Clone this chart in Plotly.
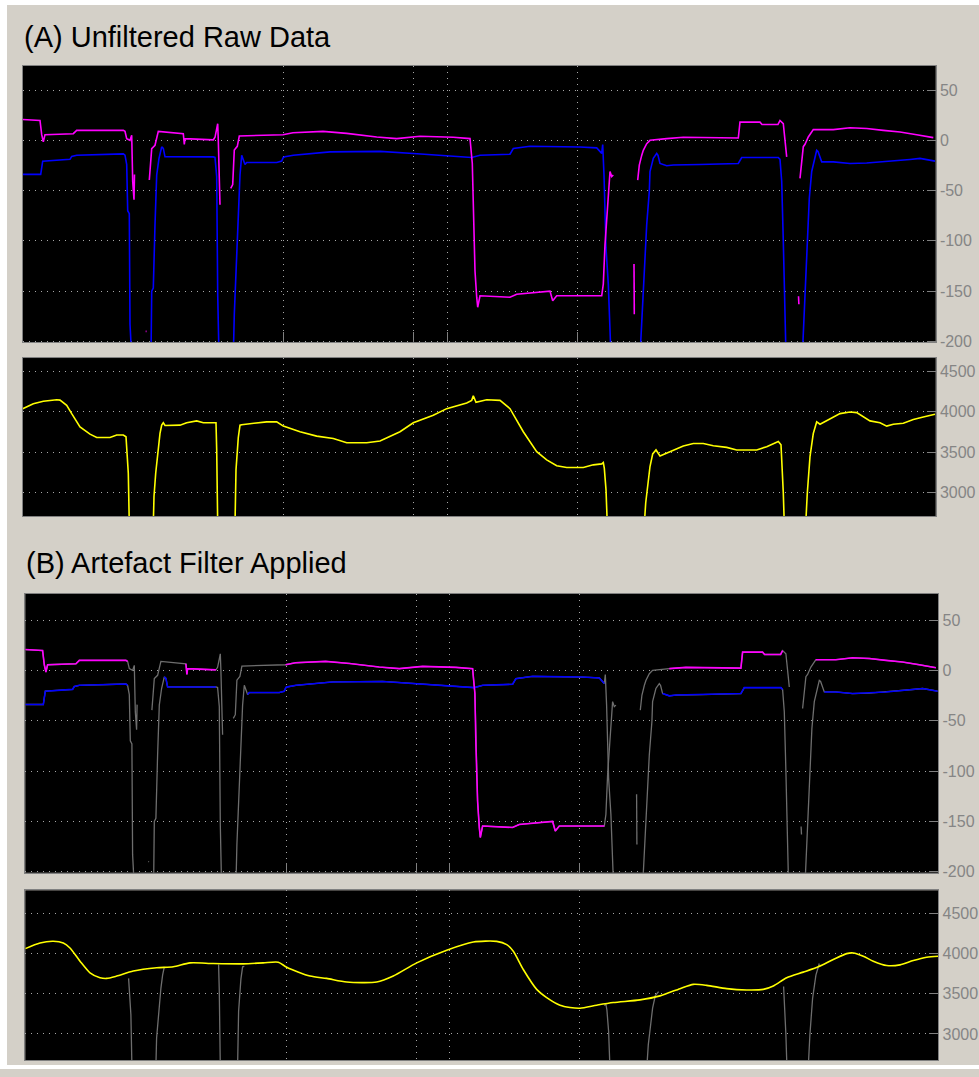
import plotly.graph_objects as go

# ---------------- data (time in samples) ----------------
N = None
raw_mag_t = [0, 17.3, 19, 20.6, 22.3, 50.6, 54, 100.6, 102.3, 104, 107.3, 109, 110, 111.3, 111.8, N,
             123, 123.8, N,
             126.6, 129, 132.3, 135.6, 160.6, 161.3, 161.6, 162.3, 190.6, 192.3, 195, 195.6, 197.3, N,
             208, 210, 211.6, 214.6, 216.6, 260.3, 270.3, 300.3, 324, 354, 374, 397.3, 430.6, 447.3,
             449.6, 450.6, 452.3, 454, 455, 457.3, 487.3, 494, 517.3, 527.3, 530, 534, 579, 580.6,
             582.3, 584, 585.6, 587.3, 589, 590.6, N,
             611.3, 611.6, N,
             615, 616.6, 619, 620.6, 624, 627.3, 644, 660.6, 715.6, 717.3, 737.3, 739.3, 755.3, 757.3,
             760.6, 762.3, 764, N,
             775.8, 776.2, N,
             777.3, 779, 780.6, 782.3, 785.6, 790.6, 810.6, 827.3, 844, 860.6, 877.3, 894, 910.6]
raw_mag_v = [20.7, 19.7, 5.6, -1.6, 5.6, 6.6, 9.9, 9.9, 8.9, 1.7, 0, 5, -41, -59, -34, N,
             -190, -190, N,
             -39.5, -8.2, -4.9, 8.9, 6.6, 1.7, -4, 1.7, 0.5, 3, 16.5, 0, -64, N,
             -47.7, -44, -9.7, -6, 4.3, 5.6, 7.6, 8.9, 6.9, 3.3, 1.7, 4, 3, 1.7,
             -23, -74, -130, -156, -166, -154.6, -156, -153, -151, -150, -159.5, -154.6, -154.6, -143,
             -103.7, -76, -54, -31, -36, -34.5, N,
             -123, -173, N,
             -39.5, -24.7, -15, -10, -3.3, 0, 1.7, 3, 2.3, 18.1, 18.1, 15.8, 15.8, 19.7,
             16.5, -1.6, -16.5, N,
             -155, -163, N,
             -37.8, -18, -6.3, -4, 3.3, 10.6, 10.6, 12.5, 11.8, 9.9, 8.3, 5.6, 2.7]

raw_blue_t = [0, 18, 20, 47.3, 49, 54, 100.6, 102.3, 104, 105, 106.6, 107.3, 109, 128.3, 129, 130.6,
              132.3, 134, 136.3, 139, 140.6, 142.3, 190.6, 192.3, 194, 195, 196.3, 210.6, 211.6, 214,
              215.6, 217.3, 219, 220.6, 222.3, 224, 254, 259, 260.6, 262.3, 270.6, 307.3, 357.3, 390.6,
              424, 449, 457.3, 487.3, 490.6, 507.3, 557.3, 574, 579, 580, 581.3, 583.3, 585.6, 587.3,
              588.3, 617.3, 619, 620.6, 622.3, 624, 626.6, 627.3, 630.6, 634, 635.3, 637.3, 644, 650.6,
              677.3, 715.6, 719, 755.6, 757.3, 759, 760.6, 762.3, 763.3, 779.6, 781.3, 782.3, 784,
              786.6, 789, 792.3, 794, 795.3, 799, 810.6, 827.3, 844, 860.6, 887.3, 897.3, 912.3]
raw_blue_v = [-33.9, -33.9, -20.7, -18.9, -16, -14.8, -13.5, -14.8, -24, -70, -73, -183, -215, -215, -150, -147,
              -84, -34.5, -18, -6.5, -8, -16.4, -16.5, -17, -36, -153, -215, -215, -173, -120,
              -84, -34.5, -14.8, -20, -24, -22, -22, -20.7, -17, -16.4, -14.8, -11.5, -11, -13.1,
              -15.4, -17.1, -14.8, -13.8, -8.2, -5.9, -6.6, -7.5, -13, -4.2, -34.5, -107, -143, -183,
              -215, -215, -183, -150, -117, -84, -51, -31, -18, -13.1, -15, -23, -25.3, -24.5,
              -24, -23, -17.1, -17.1, -19, -41, -100, -173, -215, -215, -173, -150, -117,
              -57.6, -31, -14.8, -9.9, -11, -21.4, -21.4, -23, -22.5, -21.4, -19, -18, -20.7]

raw_yel_t = [0, 10.6, 20.6, 34, 37.3, 44, 49, 57.3, 67.3, 74, 87.3, 94, 100.6, 103.3, 105.6, 106.6,
             130.6, 131.3, 133, 135.6, 137.3, 139, 140.6, 142.3, 157.3, 164, 174, 180.6, 193.3, 194, 195,
             212.3, 213.3, 215.6, 217.3, 219, 230.6, 244, 254, 260.6, 277.3, 294, 310.6, 324, 344, 357.3,
             377.3, 390.6, 410.6, 424, 444, 449, 450.6, 453.3, 464, 477.3, 487.3, 494, 500.6, 514, 524,
             534, 544, 560.6, 570.6, 579, 580.6, 581.6, 583.3, 584.6, 621.6, 623, 625, 627.3, 630, 633.3,
             637.3, 650.6, 660.6, 670.6, 680.6, 690.6, 704, 714, 734, 744, 754, 755.6, 758.3, 759, 760.6,
             761.6, 783, 784.6, 787.3, 790.6, 794, 797.3, 807.3, 817.3, 827.3, 834, 847.3, 857.3, 864,
             870.6, 880.6, 890.6, 900.6, 912.3]
raw_yel_v = [4039, 4100, 4130, 4150, 4145, 4081, 3977, 3813, 3723, 3681, 3681, 3711, 3711, 3690, 3237, 2600,
             2600, 2950, 3237, 3567, 3731, 3834, 3863, 3830, 3834, 3863, 3887, 3863, 3863, 3526, 2600,
             2600, 3279, 3681, 3834, 3840, 3854, 3875, 3875, 3822, 3752, 3698, 3669, 3616, 3616, 3637,
             3752, 3863, 3957, 4039, 4109, 4142, 4199, 4117, 4150, 4142, 4039, 3896, 3752, 3505, 3403,
             3329, 3308, 3308, 3341, 3353, 3369, 3300, 3033, 2600, 2600, 2867, 3114, 3320, 3477, 3526,
             3452, 3526, 3575, 3607, 3607, 3579, 3558, 3526, 3526, 3567, 3616, 3630, 3590, 3443, 2991,
             2600, 2600, 2991, 3443, 3731, 3875, 3846, 3916, 3977, 3998, 3990, 3887, 3863, 3822,
             3846, 3858, 3903, 3936, 3970]

filt_yel_t = [0, 14.7, 28, 38, 44.7, 54.7, 64.7, 74.7, 81.4, 91.4, 108, 131.4, 148, 164.7, 188, 218, 238,
              253, 261.4, 284.7, 301.4, 321.4, 351.4, 368, 391.4, 421.4, 448, 471.4, 481.4, 488, 498,
              511.4, 521.4, 534.7, 544.7, 554.7, 571.4, 588, 614.7, 634.7, 654.7, 668, 681.4, 701.4,
              721.4, 738, 748, 761.4, 778, 793, 808, 821.4, 828, 838, 848, 861.4, 874.7, 888, 901.4, 913]
filt_yel_v = [4060, 4130, 4151, 4130, 4068, 3904, 3760, 3699, 3690, 3719, 3781, 3822, 3834, 3883, 3875, 3871,
              3883, 3891, 3829, 3719, 3690, 3645, 3645, 3719, 3883, 4040, 4142, 4150, 4109, 4027, 3801,
              3554, 3452, 3357, 3329, 3320, 3357, 3390, 3423, 3473, 3563, 3616, 3604, 3563,
              3547, 3554, 3596, 3699, 3768, 3834, 3924, 3998, 4006, 3966, 3904, 3850, 3858, 3912, 3953, 3966]

mag_windows = [(103, 136), (191.5, 219), (579.5, 633), (757.5, 790)]
blue_windows = [(103, 138.5), (191.5, 221), (579.5, 636), (758, 797)]
yel_windows = [(102, 140), (192, 221), (579, 636), (756, 795)]

marker_times = [261, 391, 424.6, 554.6]
press_ticks = [50, 0, -50, -100, -150, -200]
press_labels = ["50", "0", "-50", "-100", "-150", "-200"]
sig_ticks = [4500, 4000, 3500, 3000]
sig_labels = ["4500", "4000", "3500", "3000"]

titles = ["(A) Unfiltered Raw Data", "(B) Artefact Filter Applied"]

# ---------------- helpers ----------------
def in_any(t, windows):
    return any(a < t < b for a, b in windows)

def outside(ts, vs, windows):
    return [None if (t is None or v is None or in_any(t, windows)) else v for t, v in zip(ts, vs)]

def inside(ts, vs, windows):
    return [v if (t is not None and any(a <= t <= b for a, b in windows)) else None
            for t, v in zip(ts, vs)]

W, H = 979, 1077
def xdom(p0, p1):
    return [p0 / W, p1 / W]
def ydom(q0, q1):
    return [1 - q1 / H, 1 - q0 / H]

MAG, BLUE, YEL, GRAY = "#ff00ff", "#0000ff", "#ffff00", "#6e6e6e"
AXC = "#808080"
GRIDC = "#a8a8a8"

fig = go.Figure()

# Panel A
fig.add_trace(go.Scatter(x=raw_blue_t, y=raw_blue_v, mode="lines", line=dict(color=BLUE, width=1.6),
                         xaxis="x", yaxis="y"))
fig.add_trace(go.Scatter(x=raw_mag_t, y=raw_mag_v, mode="lines", line=dict(color=MAG, width=1.6),
                         xaxis="x", yaxis="y"))
fig.add_trace(go.Scatter(x=raw_yel_t, y=raw_yel_v, mode="lines", line=dict(color=YEL, width=1.6),
                         xaxis="x2", yaxis="y2"))

# Panel B
fig.add_trace(go.Scatter(x=raw_blue_t, y=raw_blue_v, mode="lines", line=dict(color=GRAY, width=1.3),
                         xaxis="x3", yaxis="y3"))
fig.add_trace(go.Scatter(x=raw_mag_t, y=raw_mag_v, mode="lines", line=dict(color=GRAY, width=1.3),
                         xaxis="x3", yaxis="y3"))
fig.add_trace(go.Scatter(x=raw_blue_t, y=outside(raw_blue_t, raw_blue_v, blue_windows), mode="lines",
                         line=dict(color=BLUE, width=1.6), xaxis="x3", yaxis="y3"))
fig.add_trace(go.Scatter(x=raw_mag_t, y=outside(raw_mag_t, raw_mag_v, mag_windows), mode="lines",
                         line=dict(color=MAG, width=1.6), xaxis="x3", yaxis="y3"))
fig.add_trace(go.Scatter(x=raw_yel_t, y=inside(raw_yel_t, raw_yel_v, yel_windows), mode="lines",
                         line=dict(color=GRAY, width=1.3), xaxis="x4", yaxis="y4"))
fig.add_trace(go.Scatter(x=filt_yel_t, y=filt_yel_v, mode="lines",
                         line=dict(color=YEL, width=1.6, shape="spline", smoothing=0.7),
                         xaxis="x4", yaxis="y4"))

def xaxis_style(dom, anchor, with_ticks):
    return dict(domain=dom, anchor=anchor, range=[0, 913], showline=True, linecolor=AXC, linewidth=1,
                mirror=True, showgrid=True, gridcolor=GRIDC, griddash="1px,5px", gridwidth=1,
                tickmode="array", tickvals=marker_times, ticks="inside" if with_ticks else "",
                ticklen=10, tickcolor=AXC, showticklabels=False, zeroline=False, fixedrange=True)

def yaxis_style(dom, anchor, rng, tv, tt):
    return dict(domain=dom, anchor=anchor, side="right", range=rng, showline=True, linecolor=AXC,
                linewidth=1, mirror=True, showgrid=True, gridcolor=GRIDC, griddash="1px,5px",
                gridwidth=1, tickmode="array", tickvals=tv, ticktext=tt, ticks="inside", ticklen=9,
                tickcolor=AXC, tickfont=dict(family="Liberation Sans, Arial", size=16, color="#858585"),
                zeroline=False, fixedrange=True)

fig.update_layout(
    width=W, height=H, margin=dict(l=0, r=0, t=0, b=0),
    paper_bgcolor="#d4d0c8", plot_bgcolor="#000000", showlegend=False,
    xaxis=xaxis_style(xdom(22.7, 935.7), "y", True),
    yaxis=yaxis_style(ydom(66, 345), "x", [-201, 74.4], press_ticks, press_labels),
    xaxis2=xaxis_style(xdom(22.7, 935.7), "y2", False),
    yaxis2=yaxis_style(ydom(360.7, 520.3), "x2", [2700, 4668], sig_ticks, sig_labels),
    xaxis3=xaxis_style(xdom(25.3, 938.3), "y3", True),
    yaxis3=yaxis_style(ydom(598.3, 879.3), "x3", [-201, 76], press_ticks, press_labels),
    xaxis4=xaxis_style(xdom(25.3, 938.3), "y4", False),
    yaxis4=yaxis_style(ydom(897, 1068.3), "x4", [2672, 4784], sig_ticks, sig_labels),
    shapes=[
        dict(type="rect", xref="paper", yref="paper", x0=0, x1=7 / W, y0=0, y1=1,
             fillcolor="#ffffff", line=dict(width=0), layer="below"),
        dict(type="rect", xref="paper", yref="paper", x0=0, x1=1, y0=1 - 5 / H, y1=1,
             fillcolor="#ffffff", line=dict(width=0), layer="below"),
        dict(type="rect", xref="paper", yref="paper", x0=0, x1=1, y0=0, y1=4 / H,
             fillcolor="#ffffff", line=dict(width=0), layer="below"),
    ],
    annotations=[
        dict(text=titles[0], xref="paper", yref="paper", x=22 / W, y=1 - 37 / H, xanchor="left",
             yanchor="middle", showarrow=False,
             font=dict(family="Liberation Sans, Arial", size=29, color="#000000")),
        dict(text=titles[1], xref="paper", yref="paper", x=24 / W, y=1 - 567 / H, xanchor="left",
             yanchor="middle", showarrow=False,
             font=dict(family="Liberation Sans, Arial", size=29, color="#000000")),
    ],
)

fig.write_html("out.html")
